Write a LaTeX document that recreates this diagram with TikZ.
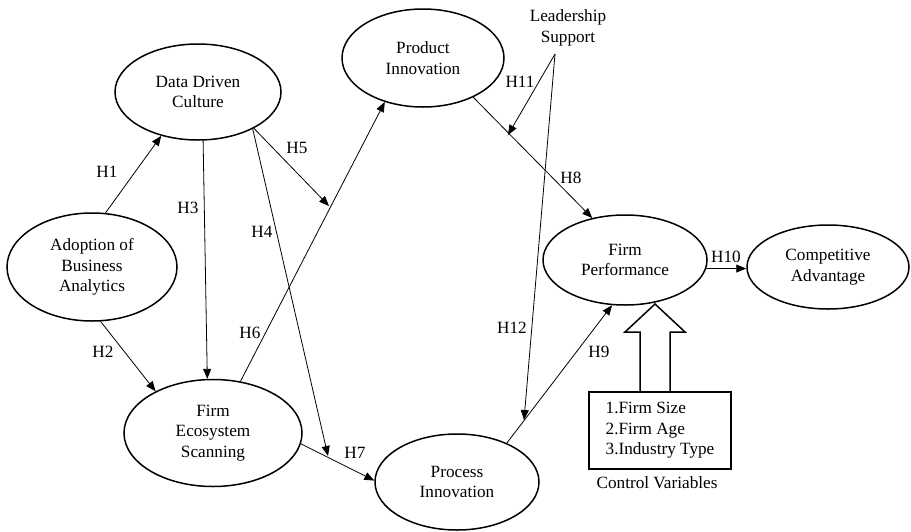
\documentclass[tikz,border=0pt]{standalone}
\usepackage{fontspec}
\setmainfont{Liberation Serif}
\usetikzlibrary{shapes.geometric,arrows.meta}
\begin{document}
\begin{tikzpicture}[x=1pt,y=-1pt,
  txt/.style={font=\fontsize{17.2}{20.5}\selectfont},
  construct/.style={ellipse,draw,line width=1.5pt,inner sep=0pt,align=center,txt},
  conn/.style={line width=0.8pt,-{Triangle[length=10pt,width=8pt]}},
  hlab/.style={txt,inner sep=0pt},
]
\useasboundingbox (0,0) rectangle (911,531);

% constructs
\node[construct,minimum width=170pt,minimum height=108pt] (ab) at (92,267) {Adoption of\\Business\\Analytics};
\node[construct,minimum width=166pt,minimum height=96pt] (dd) at (198,92) {Data Driven\\Culture};
\node[construct,minimum width=162pt,minimum height=98pt] (pi) at (423,58) {Product\\Innovation};
\node[construct,minimum width=178pt,minimum height=107pt] (fes) at (213,433) {Firm\\Ecosystem\\Scanning};
\node[construct,minimum width=164pt,minimum height=96pt] (pri) at (457,482) {Process\\Innovation};
\node[construct,minimum width=164pt,minimum height=90pt] (fp) at (625,260) {Firm\\Performance};
\node[construct,minimum width=162pt,minimum height=84pt] (ca) at (828,267) {Competitive\\Advantage};

% leadership support
\node[txt,align=center,inner sep=0pt] (ls) at (568,28) {Leadership\\Support};
\coordinate (lsp) at (555,54);

% control variables
\node[draw,line width=1.5pt,minimum width=142pt,minimum height=77pt,txt,align=left,inner sep=0pt] (cv) at (660,430.5) {1.Firm Size\\2.Firm Age\\3.Industry Type};
\node[txt,inner sep=0pt] (cvl) at (657,483) {Control Variables};
\draw[line width=1.5pt,line join=miter] (640,392) -- (640,332) -- (625,332) -- (655,304) -- (685,332) -- (670,332) -- (670,392);

% points on paths
\coordinate (h4e) at (328,456);
\coordinate (h5e) at (329,206);
\coordinate (h11e) at (508,135);
\coordinate (h12e) at (524,420);

% connectors
\draw[conn] (ab.76) -- (dd.230);
\draw[conn] (ab.-81) -- (fes.144);
\draw[conn] (dd.-84) -- (fes.96);
\draw[conn] (dd.-34) -- (h4e);
\draw[conn] (dd.-33) -- (h5e);
\draw[conn] (fes.62) -- (pi.229);
\draw[conn] (fes.-7) -- (pri.179);
\draw[conn] (pi.-38) -- (fp.128);
\draw[conn] (pri.38) -- (fp.254);
\draw[conn] (fp.-6) -- (ca.west |- fp.-6);
\draw[conn] (lsp) -- (h11e);
\draw[conn] (lsp) -- (h12e);

% labels
\node[hlab] at (107,172) {H1};
\node[hlab] at (103,352) {H2};
\node[hlab] at (188,208) {H3};
\node[hlab] at (262,232) {H4};
\node[hlab] at (297,148) {H5};
\node[hlab] at (250,333) {H6};
\node[hlab] at (355,453) {H7};
\node[hlab] at (571,178) {H8};
\node[hlab] at (599,352) {H9};
\node[hlab] at (726,257) {H10};
\node[hlab] at (520,82) {H11};
\node[hlab] at (512,328) {H12};
\end{tikzpicture}
\end{document}
